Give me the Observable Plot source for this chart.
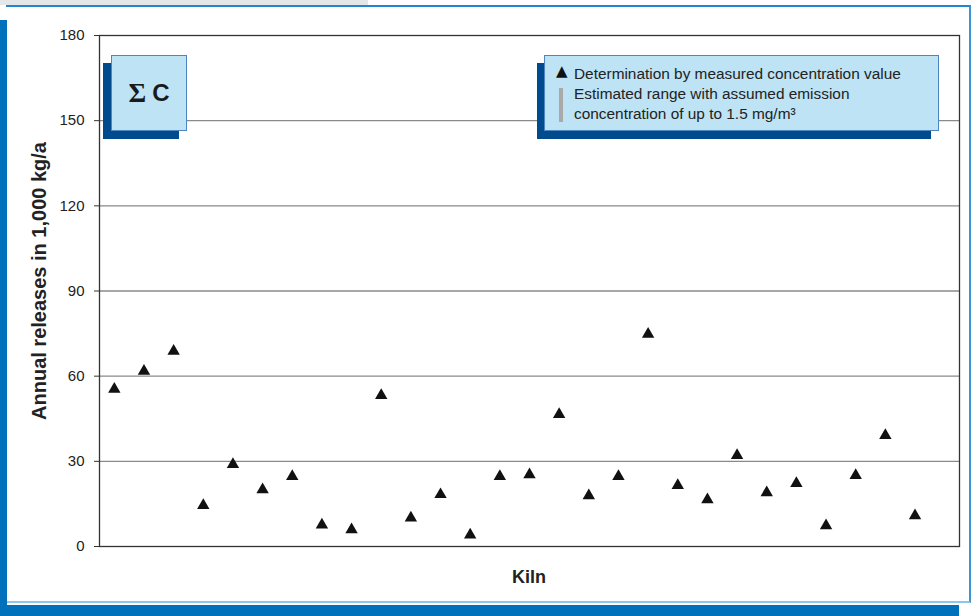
<!DOCTYPE html>
<html>
<head>
<meta charset="utf-8">
<script src="https://cdn.jsdelivr.net/npm/d3@7"></script>
<script src="https://cdn.jsdelivr.net/npm/@observablehq/plot@0.6"></script>
<style>
html,body{margin:0;padding:0;background:#fff;}
#wrap{position:relative;width:974px;height:616px;overflow:hidden;font-family:"Liberation Sans",Arial,sans-serif;color:#222;background:#fff;}
.gray{position:absolute;left:0;top:0;width:368px;height:5px;background:#e4e6e8;}
.panel{position:absolute;left:6px;top:5px;width:965px;height:598px;border-top:2px solid #1f86cf;border-right:2px solid #3d95d6;border-bottom:2px solid #8cc8ec;box-sizing:border-box;background:#fff;}
.leftbar{position:absolute;left:0;top:20px;width:7px;height:596px;background:#0071ba;}
.bottomband{position:absolute;left:0;top:605px;width:959px;height:11px;background:#0071ba;}
#chart{position:absolute;left:0;top:0;}
.sigshadow{position:absolute;left:103px;top:63px;width:76px;height:76px;background:#004b8d;}
.sigbox{position:absolute;left:111px;top:55px;width:76px;height:76px;box-sizing:border-box;background:#bde3f5;border:1px solid #4e86bf;display:flex;align-items:center;justify-content:center;font-weight:bold;font-size:24px;color:#1a1a1a;}
.sigbox .sig{font-family:"Liberation Serif","DejaVu Serif",serif;font-size:27px;margin-right:6px;}
.legshadow{position:absolute;left:537px;top:63px;width:394px;height:76px;background:#004b8d;}
.legbox{position:absolute;left:544px;top:55px;width:395px;height:76px;box-sizing:border-box;background:#bde3f5;border:1px solid #4e86bf;font-size:15.4px;}
.legbox .t{position:absolute;left:29px;white-space:nowrap;line-height:20px;}
.legbox .tri{position:absolute;left:11px;top:6px;font-size:15px;line-height:18px;font-family:"DejaVu Sans",sans-serif;color:#111;}
.legbox .bar{position:absolute;left:14px;top:32px;width:4px;height:34px;background:#a9a9a9;}
.ytitle{position:absolute;left:39px;top:281px;transform:translate(-50%,-50%) rotate(-90deg);white-space:nowrap;font-weight:bold;font-size:20px;}
.xtitle{position:absolute;left:529px;top:577px;transform:translate(-50%,-50%);font-weight:bold;font-size:18px;}
</style>
</head>
<body>
<div id="wrap">
  <div class="gray"></div>
  <div class="panel"></div>
  <div class="leftbar"></div>
  <div class="bottomband"></div>
  <div id="chart"></div>
  <div class="sigshadow"></div>
  <div class="sigbox"><span class="sig">Σ</span><span>C</span></div>
  <div class="legshadow"></div>
  <div class="legbox">
    <div class="tri">▲</div>
    <div class="bar"></div>
    <div class="t" style="top:8px">Determination by measured concentration value</div>
    <div class="t" style="top:28px">Estimated range with assumed emission</div>
    <div class="t" style="top:48px">concentration of up to 1.5 mg/m³</div>
  </div>
  <div class="ytitle">Annual releases in 1,000 kg/a</div>
  <div class="xtitle">Kiln</div>
</div>
<script>
// Kiln numbers (29 slots on the axis, 28 with a measured value)
const kilns = [1,2,3,4,5,6,7,8,9,10,11,12,13,14,15,16,17,18,19,20,21,22,23,24,25,26,27,28];
const kilnSlots = 29;
// Annual releases, 1,000 kg/a (determination by measured concentration value)
const releases = [56.0,62.4,69.4,15.1,29.5,20.6,25.3,8.2,6.5,53.8,10.7,18.9,4.7,25.3,25.9,47.1,18.5,25.3,75.4,22.1,17.1,32.7,19.6,22.8,7.9,25.6,39.7,11.5];
// Y axis ticks
const yTicks = [0,30,60,90,120,150,180];
const gridLines = [30,60,90,120,150];

const data = kilns.map((k, i) => ({kiln: k, value: releases[i]}));

const chart = Plot.plot({
  width: 974,
  height: 616,
  marginLeft: 99,
  marginRight: 15,
  marginTop: 35,
  marginBottom: 70,
  style: {background: "transparent", fontFamily: "'Liberation Sans', Arial, sans-serif", color: "#222"},
  x: {domain: [0.5, kilnSlots + 0.5], axis: null},
  y: {domain: [0, 180]},
  marks: [
    Plot.ruleY(gridLines, {stroke: "#8a8a8a", strokeWidth: 1.3}),
    Plot.frame({stroke: "#333", strokeWidth: 1.3}),
    Plot.axisY(yTicks, {tickSize: 5, tickPadding: 10, fontSize: 15, label: null, stroke: "#333", fill: "#222"}),
    Plot.dot(data, {x: "kiln", y: "value", symbol: "triangle", r: 4.6, fill: "#111", stroke: "none", dy: 1.7})
  ]
});
document.getElementById("chart").appendChild(chart);
</script>
</body>
</html>
